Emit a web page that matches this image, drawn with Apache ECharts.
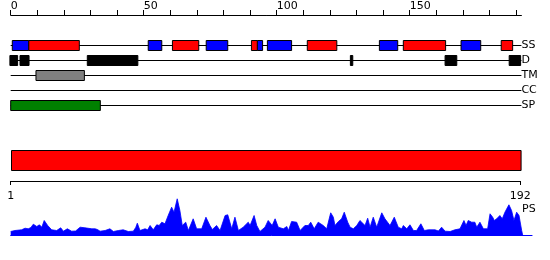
<!DOCTYPE html>
<html>
<head>
<meta charset="utf-8">
<script src="https://cdn.jsdelivr.net/npm/echarts@6/dist/echarts.min.js"></script>
<style>html,body{margin:0;padding:0;background:#fff}#c{width:550px;height:260px}</style>
</head>
<body>
<div id="c"></div>
<script>
// ---- data ----
const proteinLength = 192;
const trackNames = ['SS', 'D', 'TM', 'CC', 'SP'];
const topTickValues = [0,10,20,30,40,50,60,70,80,90,100,110,120,130,140,150,160,170,180,190];
const topLabelValues = [0, 50, 100, 150];
const seqRange = [1, 192];
const bottomTickValues = [1, 192];

// secondary structure: helix (red), strand (blue)
const ssHelix = [[6.8,25.8],[60.8,70.7],[90.5,92.7],[111.5,122.6],[147.6,163.5],[184.4,188.7]];
const ssStrand = [[0.6,6.8],[51.7,56.8],[73.5,81.6],[92.7,94.7],[96.5,105.6],[138.6,145.5],[169.3,176.7]];
// disorder
const disorder = [[-0.3,2.6],[3.5,6.9],[28.8,47.8],[127.7,128.6],[163.3,167.7],[187.4,191.7]];
// transmembrane
const transmem = [[9.5,27.7]];
// coiled coil
const coiled = [];
// signal peptide
const signalPep = [[0,33.7]];

// PS profile [position, value]
const psPoints = [[0,4],[1.6,5],[4.1,5.7],[5.4,7.3],[6.6,6.7],[7.6,8],[8.5,11.3],[9.8,9],[10.8,10.7],[11.7,8.3],[12.6,15],[13.9,10],[15.4,5.7],[17.3,5],[18.8,7.7],[19.8,4.3],[21.3,6.7],[22.9,4.3],[24.4,4.5],[26.1,8.3],[27.9,7.7],[30.5,6.7],[31.7,6.7],[32.6,6],[33.6,4.3],[35.5,5],[37.3,6.7],[38.6,4],[40.5,5],[42.3,5.7],[44.2,4],[46.1,4.3],[47,8],[47.6,12.3],[48.6,5],[50.5,6.7],[51.5,5.7],[52.4,10],[53.6,5.7],[54.9,10.7],[55.8,10],[56.8,13.3],[58,11.7],[59.2,20],[60.5,28.3],[61.4,23.3],[62.6,36.7],[63.6,25],[64.5,10],[65.8,13.3],[66.8,5],[68.6,16.7],[69.9,6.7],[71.8,6.7],[73.4,18.3],[74.9,10],[75.8,6],[77.4,10],[78.7,5],[80.6,20],[81.6,20.7],[83.1,6.7],[84.3,18.3],[85.6,5],[87.4,8.3],[89.3,13.3],[90,10],[91.5,20],[92.5,10],[93.7,4],[95.6,8.3],[96.8,15],[97.5,16.7],[98.3,10],[99.4,16.7],[100.6,8.3],[102.5,6.7],[103.8,9],[104.4,5],[105.6,14],[107.5,13.3],[108.8,5],[110.6,10],[111.9,10],[112.8,13.3],[114.1,6.7],[115.6,13.3],[117.5,10],[118.8,6.7],[120.3,22.7],[121.3,18.3],[121.9,10],[123.2,14],[124.4,16.7],[125.4,23.3],[126.7,13.3],[127.6,8.3],[128.8,6.7],[130.1,10],[131.3,15],[133.2,10],[134.2,17.3],[135.1,8.3],[136.3,18.3],[137.6,8.3],[139.5,22.7],[140.7,16.7],[142.6,10],[144.2,18.3],[145.7,8.3],[147,6.7],[147.6,10],[148.9,6.7],[150.1,10.7],[151.4,5],[152.6,5],[154.2,11.7],[155.5,5],[157,5.7],[159.5,5.7],[160.8,4.5],[162,8.3],[163.3,4.3],[165.2,4],[167,5.7],[168.9,6.7],[170.4,15],[171.2,10],[172,15],[173.3,13.3],[174.5,13.3],[175.2,8.3],[176.4,13.3],[177.7,6.7],[179.3,6.7],[180.2,21.7],[181.2,18.3],[181.8,15],[182.7,16.7],[183.9,20],[184.8,16.7],[185.8,23.3],[187.3,30.7],[188.3,25],[189.2,15],[190.2,23.3],[191.1,20],[192.1,5],[192.5,0]];

// ---- chart ----
const FONT = 'DejaVu Sans';
const PX = 2.66; // px per residue (top/profile)
const PX_SEQ = 2.668; // px per residue (sequence bar axis)

function boxSeries(segs, trackIdx, fill, stroke) {
  return {
    type: 'custom', xAxisIndex: 0, yAxisIndex: 0, silent: true, z: 3,
    data: segs.map(s => [s[0], s[1], trackIdx]),
    encode: { x: [0, 1], y: 2 },
    renderItem: function (params, api) {
      const a = api.coord([api.value(0), api.value(2)]);
      const b = api.coord([api.value(1), api.value(2)]);
      const cy = Math.round(a[1]);
      return {
        type: 'rect',
        shape: { x: a[0], y: cy - 4.5, width: b[0] - a[0], height: 10 },
        style: { fill: fill, stroke: stroke, lineWidth: 1 }
      };
    }
  };
}

const chart = echarts.init(document.getElementById('c'), null, { renderer: 'canvas' });
const gridLeft = 10.7;
chart.setOption({
  animation: false,
  backgroundColor: '#fff',
  textStyle: { fontFamily: FONT },
  grid: [
    { left: gridLeft, top: 15, width: proteinLength * PX, height: 105 },
    { left: gridLeft, top: 150, width: (seqRange[1] - seqRange[0]) * PX_SEQ, height: 21 },
    { left: gridLeft, top: 195.5, width: 196 * PX, height: 40 }
  ],
  xAxis: [
    {
      gridIndex: 0, type: 'value', position: 'top', min: 0, max: proteinLength,
      axisLine: { onZero: false, lineStyle: { color: '#000', width: 1 } },
      axisTick: { customValues: topTickValues, length: 5, lineStyle: { color: '#000' } },
      axisLabel: { customValues: topLabelValues, align: 'left', margin: 3, fontSize: 11, fontFamily: FONT, color: '#000' },
      splitLine: { show: false }
    },
    {
      gridIndex: 1, type: 'value', position: 'bottom', offset: 10, min: seqRange[0], max: seqRange[1],
      axisLine: { onZero: false, lineStyle: { color: '#000', width: 1 } },
      axisTick: { customValues: bottomTickValues, length: 4, lineStyle: { color: '#000' } },
      axisLabel: { customValues: bottomTickValues, margin: 10, fontSize: 11, fontFamily: FONT, color: '#000' },
      splitLine: { show: false }
    },
    {
      gridIndex: 2, type: 'value', min: 0, max: 196,
      axisLine: { onZero: false, lineStyle: { color: '#0000ff', width: 1 } },
      axisTick: { show: false }, axisLabel: { show: false }, splitLine: { show: false }
    }
  ],
  yAxis: [
    {
      gridIndex: 0, type: 'value', min: -2, max: 5, inverse: true, position: 'right',
      axisLine: { show: false }, axisTick: { show: false }, splitLine: { show: false },
      axisLabel: {
        customValues: trackNames.map((n, i) => i),
        formatter: v => trackNames[v], margin: 0, align: 'left',
        fontSize: 11, fontFamily: FONT, color: '#000'
      }
    },
    {
      gridIndex: 1, type: 'value', min: 0, max: 1,
      show: false
    },
    {
      gridIndex: 2, type: 'value', min: 0, max: 40, show: false
    }
  ],
  graphic: [
    { type: 'text', left: 522, top: 203.5, style: { text: 'PS', font: '11px "DejaVu Sans"', fill: '#000' } }
  ],
  series: [
    {
      type: 'custom', xAxisIndex: 0, yAxisIndex: 0, silent: true, z: 2,
      data: trackNames.map((n, i) => [0, proteinLength, i]),
      encode: { x: [0, 1], y: 2 },
      renderItem: function (params, api) {
        const a = api.coord([api.value(0), api.value(2)]);
        const b = api.coord([api.value(1), api.value(2)]);
        const y = Math.round(a[1]) + 0.5;
        return { type: 'line', shape: { x1: a[0], y1: y, x2: b[0], y2: y }, style: { stroke: '#000', lineWidth: 1 } };
      }
    },
    boxSeries(ssStrand, 0, '#0000ff', '#000'),
    boxSeries(ssHelix, 0, '#ff0000', '#000'),
    boxSeries(disorder, 1, '#000', '#000'),
    boxSeries(transmem, 2, '#808080', '#000'),
    boxSeries(coiled, 3, '#ffff00', '#000'),
    boxSeries(signalPep, 4, '#008000', '#000'),
    {
      type: 'custom', xAxisIndex: 1, yAxisIndex: 1, silent: true,
      data: [[seqRange[0], seqRange[1]]],
      encode: { x: [0, 1] },
      renderItem: function (params, api) {
        const a = api.coord([api.value(0), 1]);
        const b = api.coord([api.value(1), 0]);
        return {
          type: 'rect',
          shape: { x: Math.round(a[0]) + 0.5, y: Math.round(a[1]) + 0.5, width: b[0] - a[0], height: b[1] - a[1] - 1 },
          style: { fill: '#ff0000', stroke: '#000', lineWidth: 1 }
        };
      }
    },
    {
      type: 'line', xAxisIndex: 2, yAxisIndex: 2, silent: true,
      data: psPoints, symbol: 'none', smooth: false,
      lineStyle: { color: '#0000ff', width: 0.8 },
      areaStyle: { color: '#0000ff', opacity: 1 }
    }
  ]
});
</script>
</body>
</html>
